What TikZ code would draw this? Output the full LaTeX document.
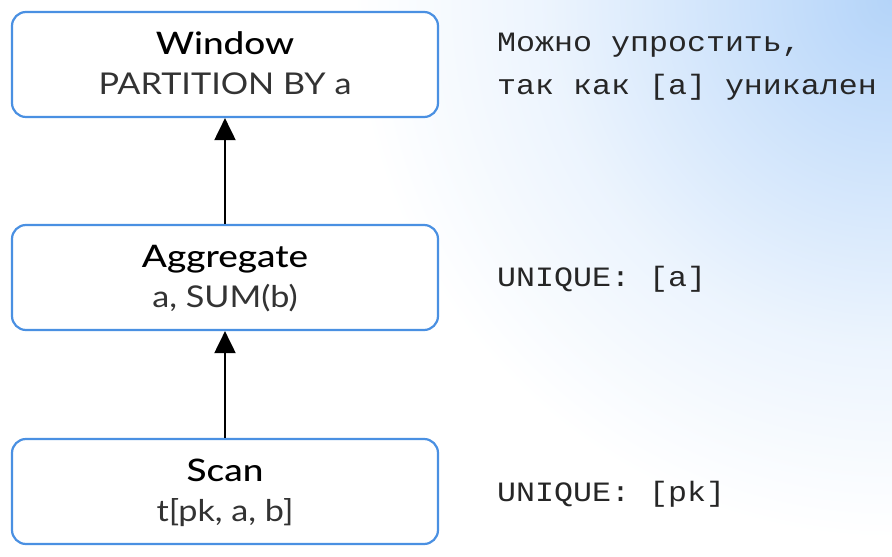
\documentclass[tikz,border=0pt]{standalone}
\usepackage{fontspec}
\setmainfont[FakeStretch=1.14]{Lato}
\newfontfamily\titlefont[FakeStretch=1.19]{Lato Medium}
\newfontfamily\monofont[FakeStretch=1.13]{Liberation Mono}
\usetikzlibrary{arrows.meta}
\definecolor{boxblue}{RGB}{74,144,226}
\definecolor{bgblue}{RGB}{180,212,249}
\pgfdeclareradialshading{bgfade}{\pgfpoint{0bp}{0bp}}{color(0bp)=(bgblue); color(8bp)=(bgblue!62!white); color(16bp)=(bgblue!25!white); color(25bp)=(white); color(50bp)=(white)}
\tikzset{
  opbox/.style={draw=boxblue, line width=2.2pt, rounded corners=14pt, fill=white,
    minimum width=426pt, minimum height=105pt, inner sep=0pt},
  optitle/.style={anchor=base, inner sep=0pt, font=\titlefont\fontsize{31}{34}\selectfont},
  opsub/.style={anchor=base, inner sep=0pt, font=\fontsize{30}{34}\selectfont, text=black!80},
  note/.style={anchor=base west, inner sep=0pt, font=\monofont\fontsize{28}{32}\selectfont, text=black!85},
  flow/.style={line width=2pt, -{Triangle[width=21pt,length=22pt]}}
}
\begin{document}
\begin{tikzpicture}[x=1pt,y=1pt]
\useasboundingbox (0,0) rectangle (892,557);
\begin{scope}
\clip (0,0) rectangle (892,557);
\fill[white] (0,0) rectangle (892,557);
\shade[shading=bgfade] (892,557) circle (540);
\end{scope}
\node[opbox] (win) at (225,492.5) {};
\node[opbox] (agg) at (225,279.5) {};
\node[opbox] (scan) at (225,65.5) {};
\node[optitle] (wint) at ([yshift=9.5pt]win.center) {Window};
\node[opsub] (wins) at ([yshift=-30.5pt]win.center) {PARTITION BY a};
\node[optitle] (aggt) at ([yshift=9.5pt]agg.center) {Aggregate};
\node[opsub] (aggs) at ([yshift=-30.5pt]agg.center) {a, SUM(b)};
\node[optitle] (scant) at ([yshift=9.5pt]scan.center) {Scan};
\node[opsub] (scans) at ([yshift=-30.5pt]scan.center) {t[pk, a, b]};
\draw[flow] (agg.north) -- (win.south);
\draw[flow] (scan.north) -- (agg.south);
\node[note] (n1) at (497,505) {Можно упростить,};
\node[note] (n2) at (497,462) {так как [а] уникален};
\node[note] (n3) at (497,270) {UNIQUE: [a]};
\node[note] (n4) at (497,55) {UNIQUE: [pk]};
\end{tikzpicture}
\end{document}
